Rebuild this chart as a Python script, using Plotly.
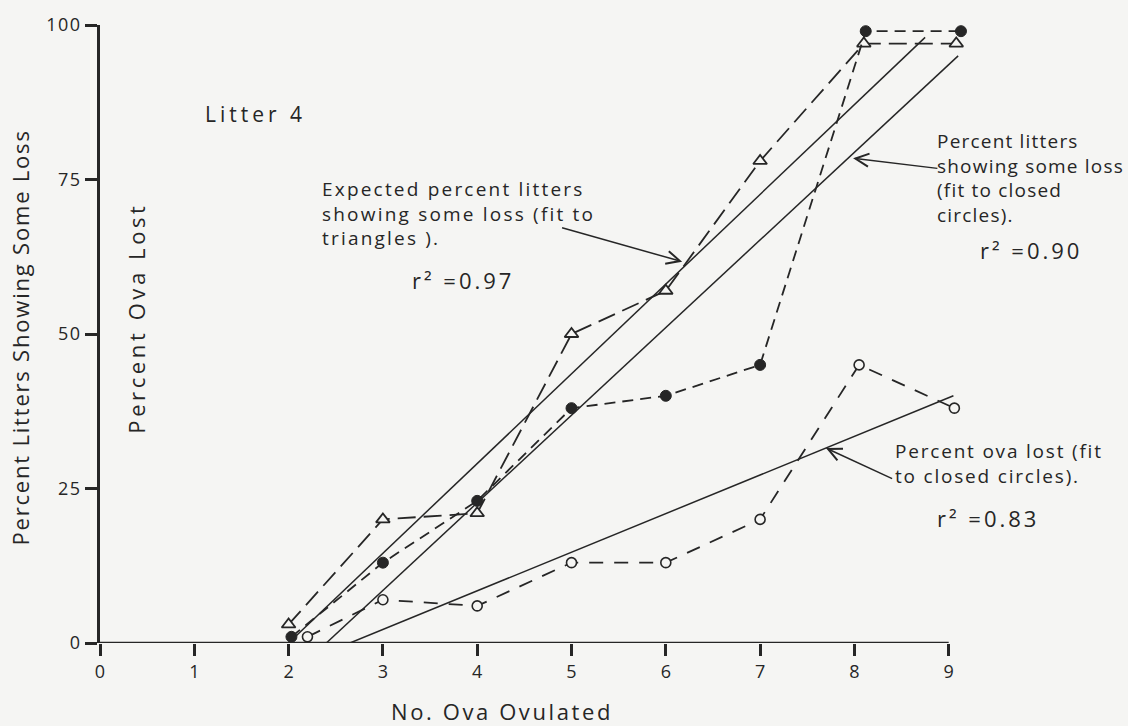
import math
import plotly.graph_objects as go

# Litter 4 -- losses against number of ova ovulated
tri_x = [2.0, 3.0, 4.0, 5.0, 6.0, 7.0, 8.1, 9.08]
tri_y = [3, 20, 21, 50, 57, 78, 97, 97]          # percent litters showing some loss (triangles)
closed_x = [2.03, 3.0, 4.0, 5.0, 6.0, 7.0, 8.12, 9.13]
closed_y = [1, 13, 23, 38, 40, 45, 99, 99]       # percent litters showing some loss (closed circles)
open_x = [2.2, 3.0, 4.0, 5.0, 6.0, 7.0, 8.05, 9.06]
open_y = [1, 7, 6, 13, 13, 20, 45, 38]           # percent ova lost (open circles)

# fitted regression lines (end points)
fit_tri_x, fit_tri_y = [2.0, 8.75], [0, 98]
fit_closed_x, fit_closed_y = [2.4, 9.1], [0, 95]
fit_ova_x, fit_ova_y = [2.65, 9.05], [0, 40]

x_ticks = [0, 1, 2, 3, 4, 5, 6, 7, 8, 9]
y_ticks = [0, 25, 50, 75, 100]

INK = "#262626"
PAPER = "#f5f5f3"
FONT = "Open Sans"

# plot-area geometry in pixels
L, T, W, H = 100, 18, 877, 625
FIG_W, FIG_H = 1128, 726
X_MAX, Y_MAX = 9.3, 100


def paper(px, py):
    return (px - L) / W, (T + H - py) / H


def data_to_px(x, y):
    return L + x * W / X_MAX, T + H - y * H / Y_MAX


def spaced(text, ls=1.5):
    return f'<span style="letter-spacing:{ls}px">{text}</span>'


fig = go.Figure()

for fx, fy in [(fit_tri_x, fit_tri_y), (fit_closed_x, fit_closed_y), (fit_ova_x, fit_ova_y)]:
    fig.add_trace(go.Scatter(x=fx, y=fy, mode="lines",
                             line=dict(color=INK, width=1.5), hoverinfo="skip"))

fig.add_trace(go.Scatter(
    x=tri_x, y=tri_y, mode="lines+markers", cliponaxis=False,
    line=dict(color=INK, width=1.8, dash="18px,8px"),
    marker=dict(symbol="triangle-up", size=12, color=PAPER,
                line=dict(color=INK, width=1.8))))
fig.add_trace(go.Scatter(
    x=closed_x, y=closed_y, mode="lines+markers", cliponaxis=False,
    line=dict(color=INK, width=1.8, dash="11px,7px"),
    marker=dict(symbol="circle", size=11, color=INK,
                line=dict(color=INK, width=1))))
fig.add_trace(go.Scatter(
    x=open_x, y=open_y, mode="lines+markers", cliponaxis=False,
    line=dict(color=INK, width=1.8, dash="14px,11px"),
    marker=dict(symbol="circle", size=10, color=PAPER,
                line=dict(color=INK, width=1.6))))

# x axis line only runs from 0 to 9
fig.add_shape(type="line", xref="x", yref="y", x0=0, x1=9, y0=0, y1=0,
              line=dict(color=INK, width=2.5), layer="above")

# pointer arrows (head, tail) in data coordinates, drawn as a shaft plus an open V head
arrows = [((6.15, 61.8), (4.90, 67.2)),
          ((8.01, 78.4), (8.88, 76.8)),
          ((7.72, 31.4), (8.40, 26.6))]
HEAD_LEN, HEAD_ANG = 15, math.radians(26)
for (hx, hy), (tx, ty) in arrows:
    hpx, hpy = data_to_px(hx, hy)
    tpx, tpy = data_to_px(tx, ty)
    ang = math.atan2(tpy - hpy, tpx - hpx)
    pts = []
    for s in (1, -1):
        a = ang + s * HEAD_ANG
        pts.append(paper(hpx + HEAD_LEN * math.cos(a), hpy + HEAD_LEN * math.sin(a)))
    h = paper(hpx, hpy)
    t = paper(tpx, tpy)
    fig.add_shape(type="path", xref="paper", yref="paper",
                  path=f"M{t[0]},{t[1]} L{h[0]},{h[1]}",
                  line=dict(color=INK, width=1.5))
    fig.add_shape(type="path", xref="paper", yref="paper",
                  path=f"M{pts[0][0]},{pts[0][1]} L{h[0]},{h[1]} L{pts[1][0]},{pts[1][1]}",
                  line=dict(color=INK, width=2))

annotations = []


def label(lines, px, py, size=19, xanchor="left", angle=0, ls=2.2):
    """Place a (possibly multi-line) text block centred vertically on pixel row py."""
    if isinstance(lines, str):
        lines = [lines]
    text = "<br>".join(spaced(s, ls) for s in lines)
    x, y = paper(px, py)
    annotations.append(dict(text=text, x=x, y=y, xref="paper", yref="paper",
                            xanchor=xanchor, yanchor="middle", align="left", showarrow=False,
                            textangle=angle, font=dict(family=FONT, size=size, color=INK)))


label("Litter 4", 203, 108, size=21, ls=4)

label(["Expected percent litters", "showing some loss (fit to", "triangles )."], 320, 209)
label("r² =0.97", 410, 276, size=22, ls=3)

label(["Percent litters", "showing some loss", "(fit to closed", "circles)."], 935, 173, ls=1.2)
label("r² =0.90", 978, 246, size=22, ls=3)

label(["Percent ova lost (fit", "to closed circles)."], 893, 461, ls=1.8)
label("r² =0.83", 935, 517, size=22, ls=3)

# axis titles
label("No. Ova Ovulated", 502, 712, size=22, xanchor="center", ls=2.6)
label("Percent Litters Showing Some Loss", 20, 334, size=22, xanchor="center", angle=-90, ls=1.8)
label("Percent Ova Lost", 136, 315, size=22, xanchor="center", angle=-90, ls=3.6)

fig.update_layout(
    width=FIG_W, height=FIG_H,
    margin=dict(l=L, r=FIG_W - L - W, t=T, b=FIG_H - T - H, pad=0),
    paper_bgcolor=PAPER, plot_bgcolor=PAPER,
    showlegend=False,
    annotations=annotations,
    font=dict(family=FONT, color=INK),
    xaxis=dict(range=[0, X_MAX], tickvals=x_ticks, ticktext=[str(v) for v in x_ticks],
               showgrid=False, zeroline=False, showline=False,
               ticks="outside", ticklen=12, tickwidth=2.5, tickcolor=INK,
               tickfont=dict(family=FONT, size=18, color=INK)),
    yaxis=dict(range=[0, Y_MAX], tickvals=y_ticks, ticktext=[spaced(str(v), 1.5) for v in y_ticks],
               showgrid=False, zeroline=False, showline=True, linecolor=INK, linewidth=2.5,
               ticks="outside", ticklen=12, tickwidth=2.5, tickcolor=INK,
               tickfont=dict(family=FONT, size=18, color=INK)),
)

fig.write_html("out.html")
